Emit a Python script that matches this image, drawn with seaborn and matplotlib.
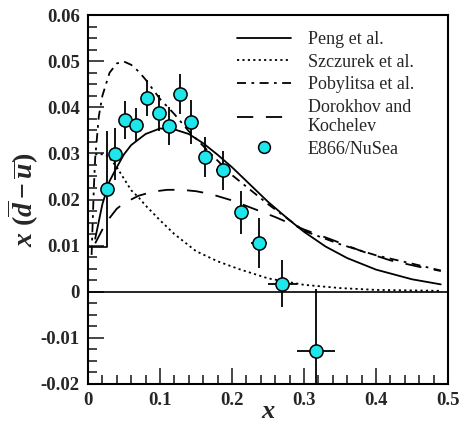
import numpy as np
import pandas as pd
import matplotlib
matplotlib.use("Agg")
import matplotlib.pyplot as plt
import seaborn as sns
from matplotlib.lines import Line2D
from matplotlib.ticker import MultipleLocator, FixedLocator

# ---------------- data ----------------
peng_x = [0.01, 0.02, 0.03, 0.04, 0.05, 0.06, 0.08, 0.10, 0.12, 0.14, 0.16, 0.18,
          0.20, 0.22, 0.25, 0.28, 0.30, 0.33, 0.36, 0.40, 0.45, 0.49]
peng_y = [0.0115, 0.019, 0.024, 0.027, 0.0298, 0.0318, 0.0342, 0.0354, 0.0352, 0.0342,
          0.0322, 0.0297, 0.027, 0.024, 0.0195, 0.0155, 0.013, 0.0098, 0.0073, 0.0048,
          0.0027, 0.0016]

szcz_x = [0.01, 0.02, 0.025, 0.03, 0.04, 0.05, 0.06, 0.07, 0.08, 0.10, 0.12, 0.15,
          0.18, 0.21, 0.25, 0.30, 0.35, 0.40, 0.49]
szcz_y = [0.0298, 0.0298, 0.0296, 0.029, 0.027, 0.0245, 0.022, 0.0205, 0.0187, 0.0155,
          0.0125, 0.0088, 0.0066, 0.0049, 0.0029, 0.0015, 0.0008, 0.0004, 0.0002]

poby_x = [0.005, 0.008, 0.01, 0.015, 0.02, 0.03, 0.04, 0.05, 0.06, 0.07, 0.08, 0.10,
          0.12, 0.14, 0.17, 0.20, 0.25, 0.30, 0.35, 0.40, 0.45, 0.49]
poby_y = [0.008, 0.022, 0.029, 0.038, 0.0425, 0.0475, 0.0495, 0.0499, 0.0492, 0.0478,
          0.046, 0.0418, 0.0385, 0.0348, 0.030, 0.0253, 0.019, 0.0132, 0.0103, 0.0079,
          0.0061, 0.0046]

doro_x = [0.01, 0.02, 0.03, 0.04, 0.05, 0.07, 0.09, 0.11, 0.13, 0.15, 0.17, 0.20,
          0.23, 0.26, 0.30, 0.34, 0.38, 0.42, 0.46, 0.49]
doro_y = [0.0105, 0.0135, 0.016, 0.018, 0.0192, 0.0208, 0.0217, 0.0221, 0.0221, 0.0218,
          0.0212, 0.0198, 0.018, 0.0162, 0.0135, 0.0112, 0.0088, 0.0068, 0.0054, 0.0045]

e866_x = [0.026, 0.038, 0.052, 0.067, 0.082, 0.098, 0.1125, 0.128, 0.1426, 0.162,
          0.187, 0.2125, 0.2375, 0.27, 0.3167]
e866_y = [0.0223, 0.0299, 0.0373, 0.0361, 0.0421, 0.0387, 0.0359, 0.0429, 0.0368,
          0.0292, 0.0263, 0.0172, 0.0105, 0.0017, -0.0128]
e866_yerr = [0.0126, 0.0056, 0.0041, 0.0037, 0.0039, 0.0039, 0.0041, 0.0043, 0.0047,
             0.0043, 0.0043, 0.0046, 0.0054, 0.0051, 0.0134]
e866_xerr = [0.004, 0.004, 0.004, 0.004, 0.004, 0.004, 0.004, 0.004, 0.004,
             0.008, 0.009, 0.009, 0.011, 0.020, 0.026]

labels = ["Peng et al.", "Szczurek et al.", "Pobylitsa et al.",
          "Dorokhov and\nKochelev", "E866/NuSea"]

# ---------------- style ----------------
sns.set_theme(style="white")
plt.rcParams["font.family"] = ["Liberation Serif", "DejaVu Serif"]
plt.rcParams["mathtext.fontset"] = "custom"
plt.rcParams["mathtext.it"] = "Liberation Serif:italic:bold"
plt.rcParams["mathtext.rm"] = "Liberation Serif:bold"
plt.rcParams["mathtext.bf"] = "Liberation Serif:bold:italic"

fig = plt.figure(figsize=(4.62, 4.25), dpi=100)
ax = fig.add_axes([88/462, 1-384/425, (448-88)/462, (384-15)/425])

lw = 1.3
styles = ["-", (0, (1.2, 1.8)), (0, (5, 3, 1.5, 3)), (0, (9, 7))]
curves = [(peng_x, peng_y), (szcz_x, szcz_y), (poby_x, poby_y), (doro_x, doro_y)]
for (cx, cy), ls in zip(curves, styles):
    df = pd.DataFrame({"x": cx, "y": cy})
    sns.lineplot(data=df, x="x", y="y", ax=ax, color="black", lw=lw,
                 linestyle=ls, sort=False, estimator=None)

# zero line
ax.axhline(0, color="black", lw=1.2, zorder=1)

# odd box near origin around first point's bar
ax.plot([0, e866_x[0]], [e866_y[0] - e866_yerr[0]] * 2, color="black", lw=1.2)

# data points with error bars
ax.errorbar(e866_x, e866_y, yerr=e866_yerr, xerr=e866_xerr, fmt="none",
            ecolor="black", elinewidth=1.3, capsize=0, zorder=3)
dpts = pd.DataFrame({"x": e866_x, "y": e866_y})
sns.scatterplot(data=dpts, x="x", y="y", ax=ax, s=90, color="#1ee6ea",
                edgecolor="black", linewidth=1.1, zorder=4)

ax.set_xlim(0, 0.5)
ax.set_ylim(-0.02, 0.06)
ax.xaxis.set_major_locator(FixedLocator([0, 0.1, 0.2, 0.3, 0.4, 0.5]))
ax.xaxis.set_minor_locator(MultipleLocator(0.02))
ax.yaxis.set_major_locator(FixedLocator([-0.02, -0.01, 0, 0.01, 0.02, 0.03, 0.04, 0.05, 0.06]))
ax.yaxis.set_minor_locator(MultipleLocator(0.0025))
ax.set_xticklabels(["0", "0.1", "0.2", "0.3", "0.4", "0.5"])
ax.set_yticklabels(["-0.02", "-0.01", "0", "0.01", "0.02", "0.03", "0.04", "0.05", "0.06"])
ax.tick_params(axis="both", which="major", direction="in", length=11.5, width=1.2,
               labelsize=13.5, top=False, right=False, bottom=True, left=True, pad=6)
ax.tick_params(axis="both", which="minor", direction="in", length=6.5, width=1.2,
               top=False, right=False, bottom=True, left=True)
for lab in ax.get_xticklabels() + ax.get_yticklabels():
    lab.set_fontweight("bold")
for sp in ax.spines.values():
    sp.set_color("black")
    sp.set_linewidth(1.5)

ax.set_xlabel(r"$x$", fontsize=19, labelpad=-6)
ax.set_ylabel(r"$x\ (\overline{d} - \overline{u})$", fontsize=20, labelpad=0)

handles = [Line2D([], [], color="black", lw=lw, linestyle=ls) for ls in styles]
handles.append(Line2D([], [], color="#1ee6ea", marker="o", markersize=8.5,
                      markeredgecolor="black", markeredgewidth=1.1, linestyle="none"))
leg = ax.legend(handles, labels, loc="upper right", frameon=False, fontsize=13,
                handlelength=3.0, handletextpad=0.9, labelspacing=0.3,
                borderaxespad=0.3, bbox_to_anchor=(0.94, 0.99))

fig.savefig("out.png", dpi=100)
